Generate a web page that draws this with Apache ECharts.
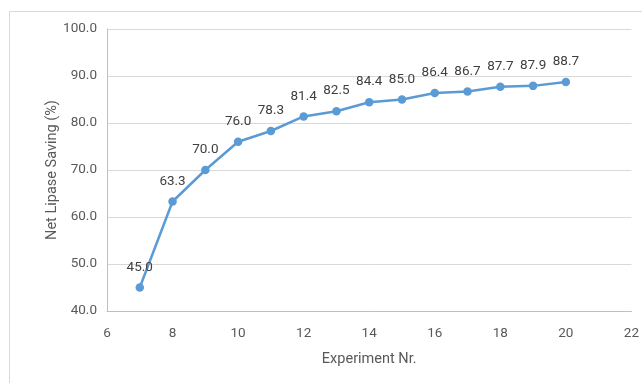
<!DOCTYPE html>
<html><head><meta charset="utf-8">
<script src="https://cdn.jsdelivr.net/npm/echarts@6/dist/echarts.min.js"></script>
<style>html,body{margin:0;padding:0;background:#fff}#c{width:642px;height:383px}</style>
</head><body><div id="c"></div>
<script>
const experiments = [7, 8, 9, 10, 11, 12, 13, 14, 15, 16, 17, 18, 19, 20];
const savings = [45.0, 63.3, 70.0, 76.0, 78.3, 81.4, 82.5, 84.4, 85.0, 86.4, 86.7, 87.7, 87.9, 88.7];
const xTitle = 'Experiment Nr.';
const yTitle = 'Net Lipase Saving (%)';

const chart = echarts.init(document.getElementById('c'), null, {renderer: 'canvas'});
const font = 'Roboto';
chart.setOption({
  animation: false,
  backgroundColor: '#fff',
  graphic: [{type: 'rect', left: 7, top: 9, shape: {width: 700, height: 400}, style: {fill: 'none', stroke: '#d9d9d9', lineWidth: 1}}],
  grid: {left: 107, right: 10, top: 29, bottom: 72},
  xAxis: {
    type: 'value', min: 6, max: 22, interval: 2,
    name: xTitle, nameLocation: 'middle', nameGap: 41, nameMoveOverlap: false,
    nameTextStyle: {color: '#595959', fontSize: 14.5, fontFamily: font},
    axisLine: {show: true, lineStyle: {color: '#bfbfbf'}},
    axisTick: {show: false},
    splitLine: {show: false},
    axisLabel: {color: '#595959', fontSize: 13.5, fontFamily: font, margin: 16}
  },
  yAxis: {
    type: 'value', min: 40, max: 100, interval: 10,
    name: yTitle, nameLocation: 'middle', nameGap: 47, nameMoveOverlap: false,
    nameTextStyle: {color: '#595959', fontSize: 14.5, fontFamily: font},
    axisLine: {show: true, lineStyle: {color: '#bfbfbf'}},
    axisTick: {show: false},
    splitLine: {show: true, lineStyle: {color: '#d9d9d9'}},
    axisLabel: {color: '#595959', fontSize: 13.5, fontFamily: font, margin: 10, formatter: v => v.toFixed(1)}
  },
  series: [{
    type: 'line',
    data: experiments.map((x, i) => [x, savings[i]]),
    symbol: 'circle', symbolSize: 8.5,
    lineStyle: {color: '#5b9bd5', width: 2.5},
    itemStyle: {color: '#5b9bd5'},
    label: {show: true, position: 'top', distance: 9, color: '#404040', fontSize: 13.5, fontFamily: font,
      formatter: p => p.value[1].toFixed(1)}
  }]
});
</script></body></html>
